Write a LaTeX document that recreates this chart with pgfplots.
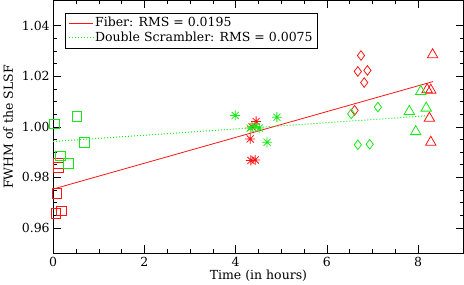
\documentclass[border=0pt]{standalone}
\usepackage{fontspec}
\setmainfont{DejaVu Serif}
\usepackage{pgfplots}
\pgfplotsset{compat=1.18}
\definecolor{myred}{RGB}{255,20,20}
\definecolor{mygreen}{RGB}{20,235,20}
\pgfdeclareplotmark{ast8}{%
 \pgfpathmoveto{\pgfqpoint{-\pgfplotmarksize}{0pt}}\pgfpathlineto{\pgfqpoint{\pgfplotmarksize}{0pt}}%
 \pgfpathmoveto{\pgfqpoint{0pt}{-\pgfplotmarksize}}\pgfpathlineto{\pgfqpoint{0pt}{\pgfplotmarksize}}%
 \pgfpathmoveto{\pgfqpoint{-0.707\pgfplotmarksize}{-0.707\pgfplotmarksize}}\pgfpathlineto{\pgfqpoint{0.707\pgfplotmarksize}{0.707\pgfplotmarksize}}%
 \pgfpathmoveto{\pgfqpoint{-0.707\pgfplotmarksize}{0.707\pgfplotmarksize}}\pgfpathlineto{\pgfqpoint{0.707\pgfplotmarksize}{-0.707\pgfplotmarksize}}%
 \pgfusepathqstroke}
\begin{document}
\begin{tikzpicture}
\begin{axis}[
 scale only axis, width=409bp, height=252bp,
 xmin=0, xmax=9, ymin=0.95, ymax=1.05,
 xtick={0,2,4,6,8}, minor x tick num=3,
 ytick={0.96,0.98,1.00,1.02,1.04}, minor y tick num=3,
 tick align=inside, major tick length=8bp, minor tick length=4bp,
 /pgf/number format/assume math mode=true,
 yticklabel style={/pgf/number format/.cd,fixed,fixed zerofill,precision=2},
 xlabel={Time (in hours)}, ylabel={FWHM of the SLSF},
 tick label style={font=\fontsize{12.5}{14}\selectfont},
 label style={font=\fontsize{12.5}{14}\selectfont},
 xlabel style={yshift=3bp},
 ylabel style={yshift=2bp},
 legend style={at={(0.029,0.952)}, anchor=north west, draw=black, line width=0.8pt,
   font=\fontsize{12.5}{12.5}\selectfont, row sep=0pt, inner sep=2.5pt},
 legend cell align=left,
 legend image code/.code={\draw[#1] (0bp,0bp) -- (24bp,0bp);},
 axis line style={line width=0.8pt},
 every tick/.style={black, line width=0.6pt},
]
\addplot[myred, line width=0.8pt] coordinates {(0,0.9754) (8.33,1.0179)};
\addlegendentry{Fiber: RMS = 0.0195}
\addplot[mygreen, line width=1pt, dotted] coordinates {(0,0.9942) (8.23,1.0044)};
\addlegendentry{Double Scrambler: RMS = 0.0075}
% squares
\addplot[only marks, mark=square, mark size=4.8bp, myred, line width=0.8pt, forget plot] coordinates {
 (0.116,0.9856) (0.116,0.9839) (0.08,0.9737) (0.175,0.9667) (0.06,0.9658)};
\addplot[only marks, mark=square, mark size=4.8bp, mygreen, line width=0.8pt, forget plot] coordinates {
 (0.03,1.0012) (0.52,1.0041) (0.687,0.9939) (0.153,0.9885) (0.336,0.9856)};
% asterisks
\addplot[only marks, mark=ast8, mark size=5bp, myred, line width=0.8pt, forget plot] coordinates {
 (4.32,0.9952) (4.335,0.9867) (4.43,0.9869) (4.45,1.0021) (4.36,1.0000)};
\addplot[only marks, mark=ast8, mark size=5bp, mygreen, line width=0.8pt, forget plot] coordinates {
 (3.99,1.0045) (4.905,1.0038) (4.32,0.9995) (4.43,1.0001) (4.52,0.9995) (4.69,0.9939)};
% diamonds
\addplot[only marks, mark=diamond, mark size=4.8bp, myred, line width=0.8pt, forget plot] coordinates {
 (6.75,1.0282) (6.68,1.0219) (6.89,1.0223) (6.82,1.0175) (6.61,1.0065)};
\addplot[only marks, mark=diamond, mark size=4.8bp, mygreen, line width=0.8pt, forget plot] coordinates {
 (7.12,1.0078) (6.535,1.0051) (6.68,0.9929) (6.94,0.9931)};
% triangles
\addplot[only marks, mark=triangle, mark size=6bp, myred, line width=0.8pt, forget plot] coordinates {
 (8.32,1.0285) (8.2,1.0147) (8.28,1.0145) (8.25,1.0034) (8.28,0.9939)};
\addplot[only marks, mark=triangle, mark size=6bp, mygreen, line width=0.8pt, forget plot] coordinates {
 (8.06,1.0140) (7.81,1.0061) (8.18,1.0074) (7.95,0.9981)};
\end{axis}
\end{tikzpicture}
\end{document}
